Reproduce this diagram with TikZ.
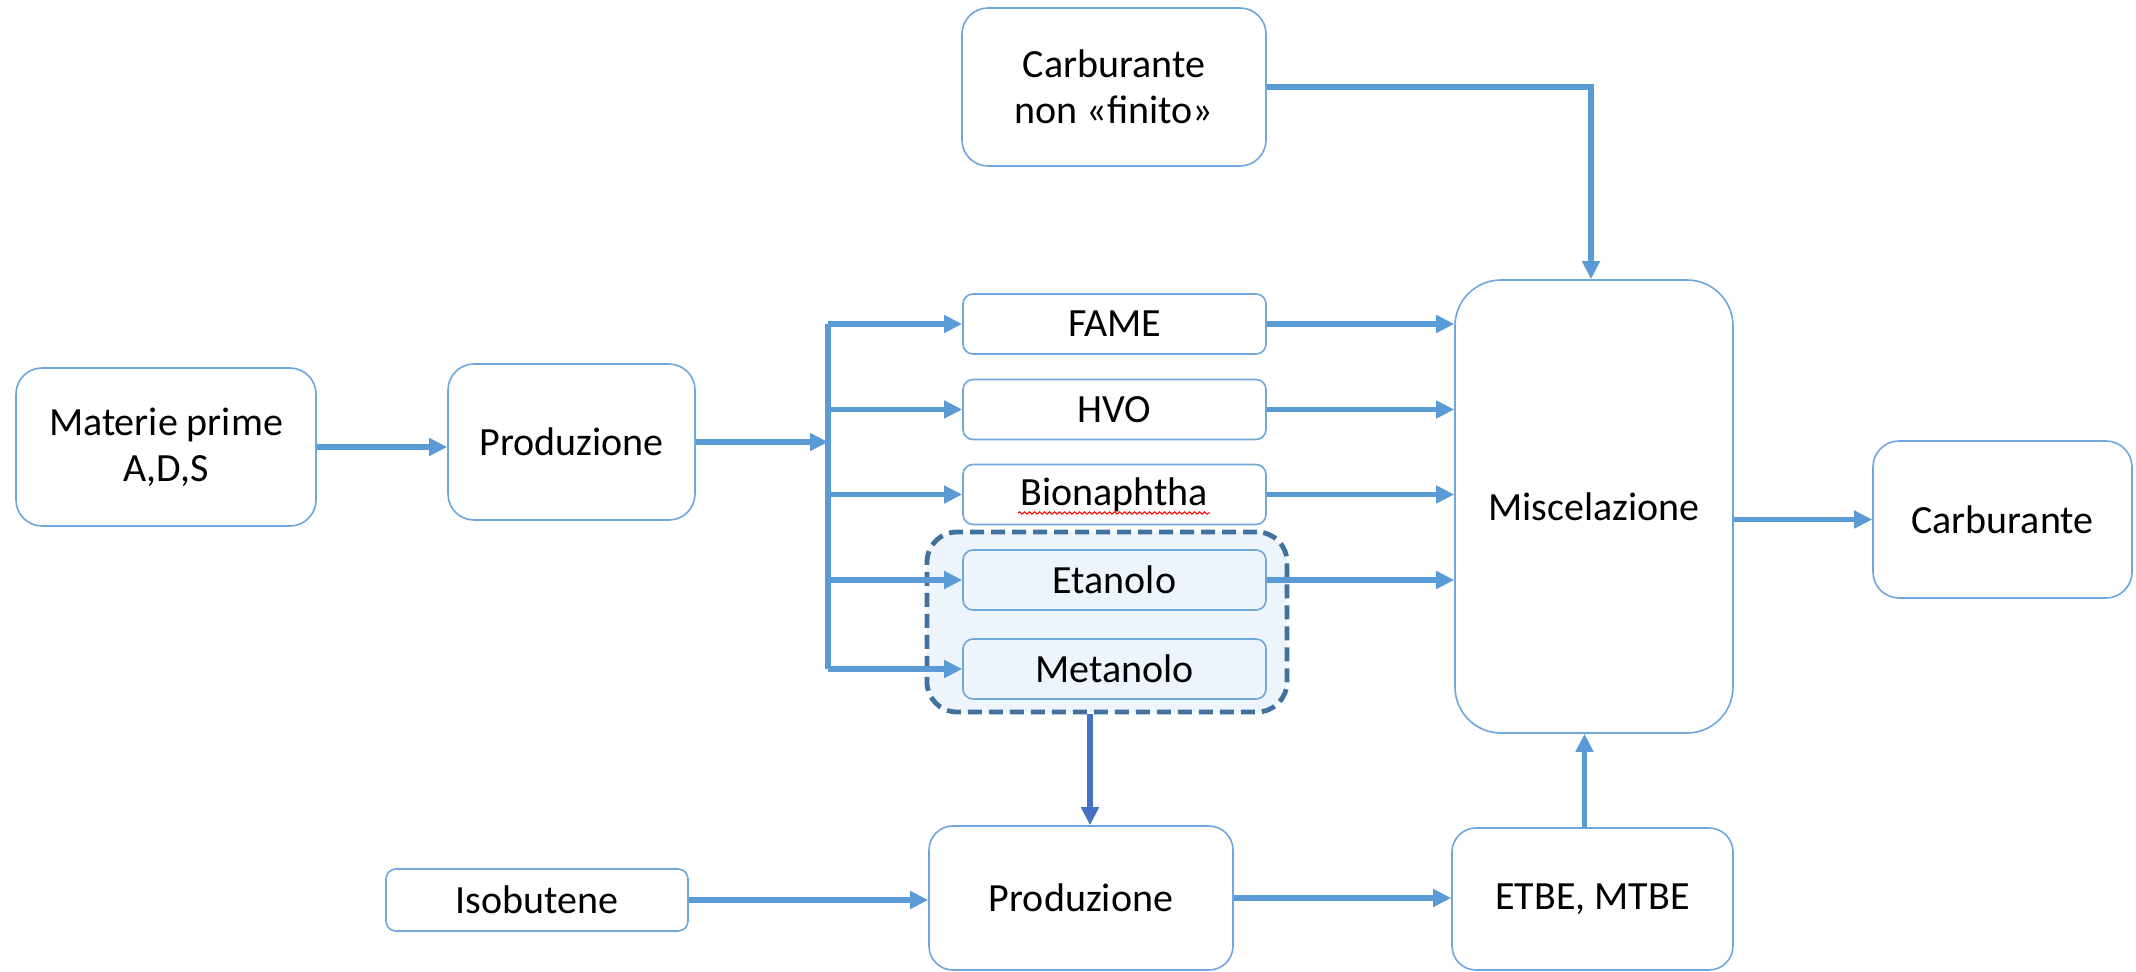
\documentclass[tikz,border=0pt]{standalone}
\usepackage{fontspec}
\setmainfont{Carlito}
\usetikzlibrary{arrows.meta,decorations.pathmorphing}
\definecolor{lnk}{HTML}{5B9BD5}
\definecolor{bord}{HTML}{6FA6DC}
\definecolor{grpc}{HTML}{41719C}
\definecolor{grpfill}{HTML}{EDF4FB}
\definecolor{darr}{HTML}{4472C4}
\tikzset{
  box/.style={draw=bord, line width=0.8pt, fill=white, align=center, inner sep=0pt, font=\fontsize{20}{23}\selectfont},
  bigbox/.style={box, rounded corners=13pt},
  smallbox/.style={box, rounded corners=5pt, minimum width=151.5pt, minimum height=30pt},
  arr/.style={draw=lnk, line width=2.8pt, -{Triangle[length=9pt,width=8.5pt]}},
  ln/.style={draw=lnk, line width=2.8pt},
  arrD/.style={draw=darr, line width=2.6pt, -{Triangle[length=9pt,width=8.5pt]}},
  grpbox/.style={draw=grpc, line width=2.4pt, dash pattern=on 7pt off 3.5pt, fill=grpfill, rounded corners=15pt, inner sep=0pt},
}
\begin{document}
\begin{tikzpicture}[x=0.5pt,y=-0.5pt]
\useasboundingbox (0,0) rectangle (2136,972);

% nodes
\node[bigbox, minimum width=150pt, minimum height=79pt] (mat) at (166,447) {Materie prime\\A,D,S};
\node[bigbox, minimum width=123.5pt, minimum height=78pt] (prod1) at (571.5,442) {Produzione};
\node[bigbox, minimum width=152pt, minimum height=79pt] (cnf) at (1114,87) {Carburante\\non «finito»};

\node[grpbox, minimum width=180pt, minimum height=90pt] (grp) at (1107,622) {};

\node[smallbox] (fame) at (1114.5,324) {FAME};
\node[smallbox] (hvo) at (1114.5,409.5) {HVO};
\node[smallbox] (bio) at (1114.5,494.5) {Bionaphtha};
\node[smallbox, fill=grpfill] (eta) at (1114.5,580) {Etanolo};
\node[smallbox, fill=grpfill] (met) at (1114.5,669) {Metanolo};

\node[box, rounded corners=23pt, minimum width=139pt, minimum height=226.5pt] (misc) at (1594,506.5) {Miscelazione};
\node[bigbox, minimum width=129.5pt, minimum height=78.5pt] (carb) at (2002.5,519.5) {Carburante};

\node[smallbox, minimum width=151pt, minimum height=31pt] (iso) at (537,900) {Isobutene};
\node[box, rounded corners=12pt, minimum width=152pt, minimum height=72pt] (prod2) at (1081,898) {Produzione};
\node[box, rounded corners=12pt, minimum width=140.5pt, minimum height=71pt] (etbe) at (1592.5,899) {ETBE, MTBE};

% spell-check underline
\draw[red, line width=0.5pt, decorate, decoration={snake, amplitude=0.6pt, segment length=2.5pt}] (1018,513) -- (1210,513);

% bus
\coordinate (busT) at (828,324);
\coordinate (busB) at (828,669);
\draw[ln] (busT) -- (busB);

% connectors
\draw[arr] (mat.east) -- (mat.east -| prod1.west);
\draw[arr] (prod1.east) -- (prod1.east -| busT);
\draw[arr] (busT) -- (fame.west);
\draw[arr] (hvo.west -| busT) -- (hvo.west);
\draw[arr] (bio.west -| busT) -- (bio.west);
\draw[arr] (eta.west -| busT) -- (eta.west);
\draw[arr] (busB) -- (met.west);

\draw[arr] (fame.east) -- (fame.east -| misc.west);
\draw[arr] (hvo.east) -- (hvo.east -| misc.west);
\draw[arr] (bio.east) -- (bio.east -| misc.west);
\draw[arr] (eta.east) -- (eta.east -| misc.west);

\draw[arr] (cnf.east) -| ([xshift=-1.5pt]misc.north);
\draw[arr] (carb.west -| misc.east) -- (carb.west);

\draw[arrD] ([xshift=-8.5pt]grp.south) -- ([xshift=-8.5pt]grp.south |- prod2.north);
\draw[arr] (iso.east) -- (iso.east -| prod2.west);
\draw[arr] (prod2.east) -- (prod2.east -| etbe.west);
\draw[arr] ([xshift=-4pt]etbe.north) -- ([xshift=-4pt]etbe.north |- misc.south);
\end{tikzpicture}
\end{document}
